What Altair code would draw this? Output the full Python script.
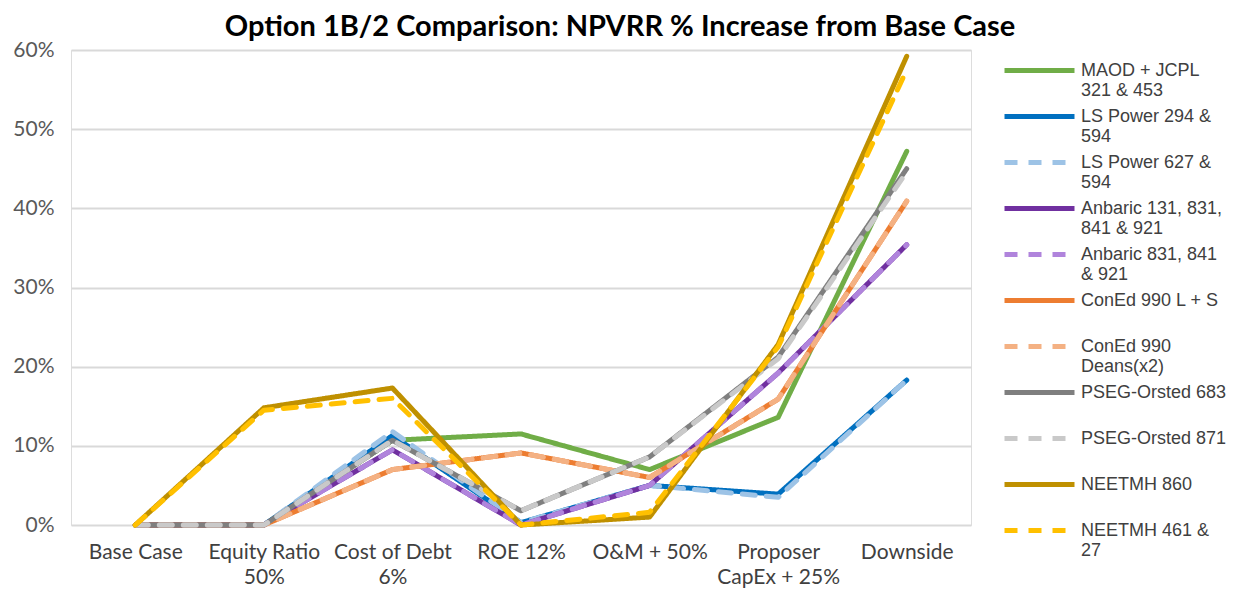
import altair as alt
import pandas as pd

categories = ["Base Case", "Equity Ratio|50%", "Cost of Debt|6%", "ROE 12%",
              "O&M + 50%", "Proposer|CapEx + 25%", "Downside"]

series = [
    "MAOD + JCPL|321 & 453",
    "LS Power 294 &|594",
    "LS Power 627 &|594",
    "Anbaric 131, 831,|841 & 921",
    "Anbaric 831, 841|& 921",
    "ConEd 990 L + S|",
    "ConEd 990|Deans(x2)",
    "PSEG-Orsted 683|",
    "PSEG-Orsted 871|",
    "NEETMH  860|",
    "NEETMH  461 &|27",
]

colors = ["#70AD47", "#0070C0", "#9DC3E6", "#7030A0", "#B084DC", "#ED7D31",
          "#F4B183", "#7F7F7F", "#C9C9C9", "#BF9000", "#FFC000"]
dashed = [False, False, True, False, True, False, True, False, True, False, True]

maod = [0.0, 0.0, 10.7, 11.5, 7.0, 13.6, 47.2]
ls294 = [0.0, 0.0, 11.3, 0.3, 5.0, 3.9, 18.3]
ls627 = [0.0, 0.0, 11.8, 0.3, 5.0, 3.5, 18.3]
anb131 = [0.0, 0.0, 9.5, 0.0, 5.0, 19.2, 35.4]
anb831 = [0.0, 0.0, 9.5, 0.0, 5.0, 19.2, 35.4]
coned_ls = [0.0, 0.0, 7.0, 9.1, 6.0, 15.9, 40.9]
coned_deans = [0.0, 0.0, 7.0, 9.1, 6.0, 15.9, 40.9]
pseg683 = [0.0, 0.0, 10.7, 1.8, 8.6, 21.2, 45.0]
pseg871 = [0.0, 0.0, 10.7, 1.8, 8.6, 21.0, 44.6]
neet860 = [0.0, 14.8, 17.3, 0.0, 1.0, 22.8, 59.2]
neet461 = [0.0, 14.5, 16.0, 0.0, 1.6, 22.5, 57.5]

values = [maod, ls294, ls627, anb131, anb831, coned_ls, coned_deans,
          pseg683, pseg871, neet860, neet461]

rows = []
for s, vals in zip(series, values):
    for c, v in zip(categories, vals):
        rows.append({"series": s, "category": c, "value": v / 100.0})
df = pd.DataFrame(rows)

dash_range = [[13, 11] if d else [1, 0] for d in dashed]

legend = alt.Legend(
    title=None, orient="none", legendX=956, legendY=8,
    labelExpr="split(datum.label, '|')",
    labelFont="Liberation Sans", labelFontSize=18, labelColor="#404040",
    labelLimit=300, labelOffset=29,
    symbolType="M-3.5,0H3.5", symbolSize=400, symbolStrokeWidth=5,
    rowPadding=4, padding=0,
)

chart = alt.Chart(df).mark_line(strokeWidth=5, strokeCap="round", strokeJoin="round").encode(
    x=alt.X("category:N", sort=categories,
            scale=alt.Scale(type="point", padding=0.5),
            axis=alt.Axis(title=None, labelExpr="split(datum.label, '|')",
                          labelAngle=0, labelFont="Lato", labelFontSize=21,
                          labelColor="#404040", labelLineHeight=25,
                          labelPadding=16, ticks=False, domain=False, grid=False)),
    y=alt.Y("value:Q", scale=alt.Scale(domain=[0, 0.6], nice=False, zero=True),
            axis=alt.Axis(title=None, format=".0%", values=[0, 0.1, 0.2, 0.3, 0.4, 0.5, 0.6],
                          labelFont="Lato", labelFontSize=21, labelColor="#595959",
                          labelPadding=17, ticks=False, domain=False,
                          gridColor="#D9D9D9", gridWidth=2)),
    color=alt.Color("series:N", sort=series,
                    scale=alt.Scale(domain=series, range=colors), legend=legend),
    strokeDash=alt.StrokeDash("series:N", sort=series,
                              scale=alt.Scale(domain=series, range=dash_range), legend=legend),
    detail="series:N",
).properties(
    width=900, height=475,
    title=alt.TitleParams("Option 1B/2 Comparison: NPVRR % Increase from Base Case",
                          font="Lato", fontSize=29, fontWeight="bold", color="#000000",
                          anchor="middle", frame="group", dx=99, dy=7, offset=4),
    autosize=alt.AutoSizeParams(type="none"),
    padding={"left": 63, "top": 42, "right": 260, "bottom": 64},
).configure_view(stroke=None).configure(background="white")

chart.save("out.html", embed_options={"renderer": "svg", "actions": False})
